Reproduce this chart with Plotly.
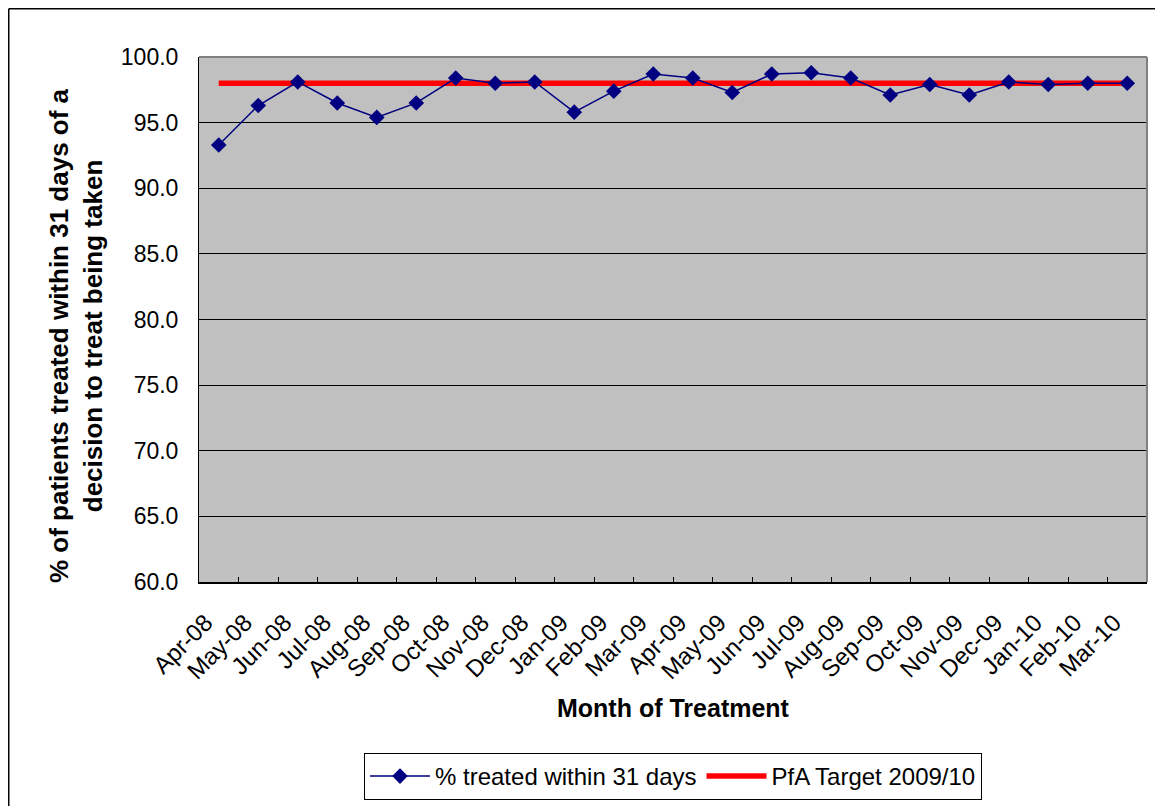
import plotly.graph_objects as go

months = ["Apr-08", "May-08", "Jun-08", "Jul-08", "Aug-08", "Sep-08", "Oct-08", "Nov-08",
          "Dec-08", "Jan-09", "Feb-09", "Mar-09", "Apr-09", "May-09", "Jun-09", "Jul-09",
          "Aug-09", "Sep-09", "Oct-09", "Nov-09", "Dec-09", "Jan-10", "Feb-10", "Mar-10"]
treated_pct = [93.3, 96.3, 98.1, 96.5, 95.4, 96.5, 98.4, 98.0,
               98.1, 95.8, 97.4, 98.7, 98.4, 97.3, 98.7, 98.8,
               98.4, 97.1, 97.9, 97.1, 98.1, 97.9, 98.0, 98.0]
target_pct = [98.0] * len(months)
y_ticks = [60, 65, 70, 75, 80, 85, 90, 95, 100]

FONT = "Liberation Sans, Arial, sans-serif"

fig = go.Figure()
fig.add_trace(go.Scatter(
    x=months, y=target_pct, mode="lines", name="PfA Target 2009/10",
    line=dict(color="#FF0000", width=5.5), legendrank=2,
))
fig.add_trace(go.Scatter(
    x=months, y=treated_pct, mode="lines+markers", name="% treated within 31 days",
    line=dict(color="#000080", width=1.5),
    marker=dict(symbol="diamond", size=12, color="#000080"), legendrank=1,
))

fig.update_layout(
    width=1155, height=798,
    margin=dict(l=191, r=16, t=49, b=224, autoexpand=False),
    paper_bgcolor="white", plot_bgcolor="#C0C0C0",
    font=dict(family=FONT, size=21, color="black"),
    showlegend=True,
    legend=dict(orientation="h", x=0.5, xanchor="center", y=-0.3257, yanchor="top",
                bordercolor="black", borderwidth=1, bgcolor="white",
                font=dict(family=FONT, size=24, color="black"),
                traceorder="normal", itemwidth=60),
    xaxis=dict(type="category", tickangle=-45, ticks="inside", ticklen=5, tickcolor="black",
               tickson="boundaries", showgrid=False, showline=True, linecolor="black",
               linewidth=2, tickfont=dict(family=FONT, size=24, color="black"),
               ticklabelstandoff=15, ticklabelshift=-13, automargin=False,
               range=[-0.5, len(months) - 0.5]),
    yaxis=dict(range=[60, 100], tickvals=y_ticks, ticktext=[f"{v:.1f}" for v in y_ticks],
               showgrid=True, gridcolor="black", gridwidth=1, ticks="",
               showline=True, linecolor="black", linewidth=1, zeroline=False,
               automargin=False,
               ticklabelstandoff=15, tickfont=dict(family=FONT, size=23, color="black")),
    shapes=[
        dict(type="line", xref="paper", yref="paper", x0=0, x1=1, y0=1, y1=1,
             line=dict(color="#808080", width=2), layer="above"),
        dict(type="line", xref="paper", yref="paper", x0=1, x1=1, y0=0, y1=1,
             line=dict(color="#808080", width=2), layer="above"),
        dict(type="line", xref="paper", yref="paper", x0=-0.2007, x1=-0.2007, y0=1.0919, y1=-0.45,
             line=dict(color="black", width=1.5)),
        dict(type="line", xref="paper", yref="paper", x0=-0.2007, x1=1.05, y0=1.0919, y1=1.0919,
             line=dict(color="black", width=1.5)),
    ],
    annotations=[
        dict(text="<b>Month of Treatment</b>", xref="paper", yref="paper", x=0.5, y=-0.24,
             xanchor="center", yanchor="middle", showarrow=False,
             font=dict(family=FONT, size=25, color="black")),
        dict(text="<b>% of patients treated within 31 days of a<br>decision to treat being taken</b>",
             xref="paper", yref="paper", x=-0.1297, y=0.4686, textangle=-90,
             xanchor="center", yanchor="middle", showarrow=False,
             font=dict(family=FONT, size=26, color="black")),
    ],
)

fig.write_html("out.html")
